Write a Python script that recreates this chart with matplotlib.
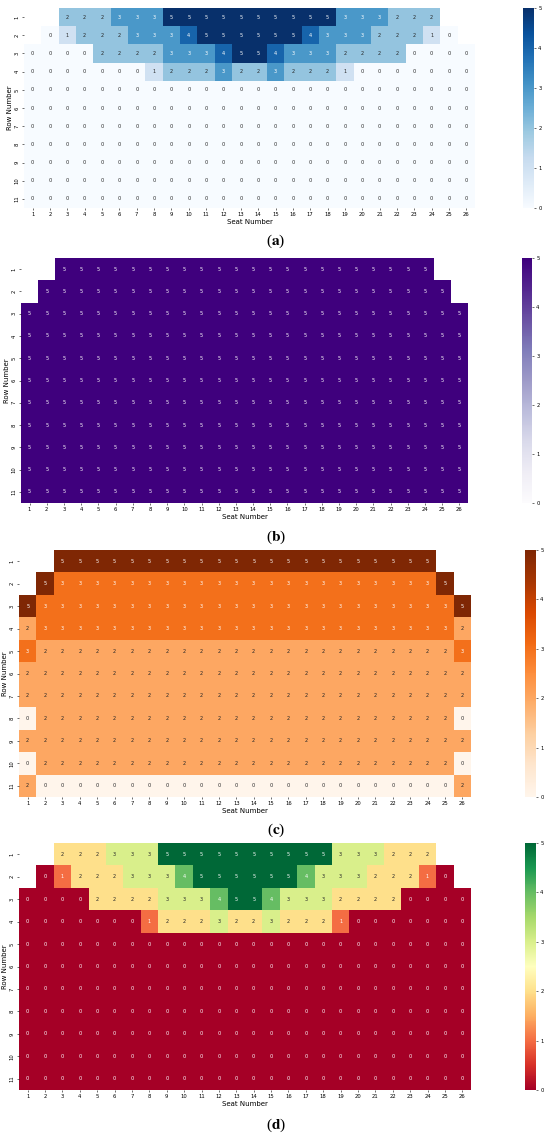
import numpy as np
import matplotlib
matplotlib.use("Agg")
import matplotlib.pyplot as plt
import seaborn as sns

# seat layout: first/last seat used in each row (rows 1..11)
row_first = [3, 2, 1, 1, 1, 1, 1, 1, 1, 1, 1]
row_last = [24, 25, 26, 26, 26, 26, 26, 26, 26, 26, 26]
seats = list(range(1, 27))
rows = list(range(1, 12))

# (a) / (d) values, one list per row (only seats that exist)
a_r1 = [2, 2, 2, 3, 3, 3, 5, 5, 5, 5, 5, 5, 5, 5, 5, 5, 3, 3, 3, 2, 2, 2]
a_r2 = [0, 1, 2, 2, 2, 3, 3, 3, 4, 5, 5, 5, 5, 5, 5, 4, 3, 3, 3, 2, 2, 2, 1, 0]
a_r3 = [0, 0, 0, 0, 2, 2, 2, 2, 3, 3, 3, 4, 5, 5, 4, 3, 3, 3, 2, 2, 2, 2, 0, 0, 0, 0]
a_r4 = [0, 0, 0, 0, 0, 0, 0, 1, 2, 2, 2, 3, 2, 2, 3, 2, 2, 2, 1, 0, 0, 0, 0, 0, 0, 0]
a_rest = [0] * 26

# (c) values
c_r1 = [5] * 22
c_r2 = [5] + [3] * 22 + [5]
c_r3 = [5] + [3] * 24 + [5]
c_r4 = [2] + [3] * 24 + [2]
c_r5 = [3] + [2] * 24 + [3]
c_r6 = [2] + [2] * 24 + [2]
c_r7 = [2] + [2] * 24 + [2]
c_r8 = [0] + [2] * 24 + [0]
c_r9 = [2] + [2] * 24 + [2]
c_r10 = [0] + [2] * 24 + [0]
c_r11 = [2] + [0] * 24 + [2]

panel_a = [a_r1, a_r2, a_r3, a_r4] + [a_rest] * 7
panel_b = [[5] * (row_last[i] - row_first[i] + 1) for i in range(11)]
panel_c = [c_r1, c_r2, c_r3, c_r4, c_r5, c_r6, c_r7, c_r8, c_r9, c_r10, c_r11]
panel_d = panel_a

def to_grid(vals):
    grid = np.full((11, 26), np.nan)
    for i, v in enumerate(vals):
        grid[i, row_first[i] - 1:row_last[i]] = v
    return grid

W, H = 550, 1137
fig = plt.figure(figsize=(W / 100, H / 100), dpi=100)
plt.rcParams['mathtext.fontset'] = 'stix'

def rect(x0, y0, x1, y1):
    return [x0 / W, 1 - y1 / H, (x1 - x0) / W, (y1 - y0) / H]

panels = [
    (panel_a, 'Blues', (24, 8, 475, 208), (523, 8, 534, 208), 241, 'a'),
    (panel_b, 'Purples', (21, 258, 468, 503), (522, 258, 532, 503), 537, 'b'),
    (panel_c, 'Oranges', (19, 550, 471, 797), (525, 550, 536, 797), 830, 'c'),
    (panel_d, 'RdYlGn', (19, 843, 471, 1090), (525, 843, 536, 1090), 1125, 'd'),
]

for vals, cmap, hm, cb, ylab, letter in panels:
    grid = to_grid(vals)
    ax = fig.add_axes(rect(*hm))
    cax = fig.add_axes(rect(*cb))
    sns.heatmap(grid, ax=ax, cbar_ax=cax, cmap=cmap, vmin=0, vmax=5,
                mask=np.isnan(grid), annot=True, fmt='.0f',
                annot_kws={'size': 3.6},
                xticklabels=seats, yticklabels=rows)
    ax.tick_params(labelsize=3.8, length=1.5, width=0.4, pad=1.5)
    ax.set_xlabel('Seat Number', fontsize=5, labelpad=1)
    ax.set_ylabel('Row Number', fontsize=5, labelpad=1)
    for t in ax.get_xticklabels():
        t.set_rotation(0)
    for t in ax.get_yticklabels():
        t.set_rotation(90)
        t.set_va('center')
    cax.tick_params(labelsize=3.8, length=1.5, width=0.4, pad=1.5)
    fig.text(276 / W, 1 - ylab / H, r'($\mathbf{' + letter + r'}$)',
             ha='center', va='center', fontsize=11, family='Liberation Serif')

fig.savefig('out.png', dpi=100)
